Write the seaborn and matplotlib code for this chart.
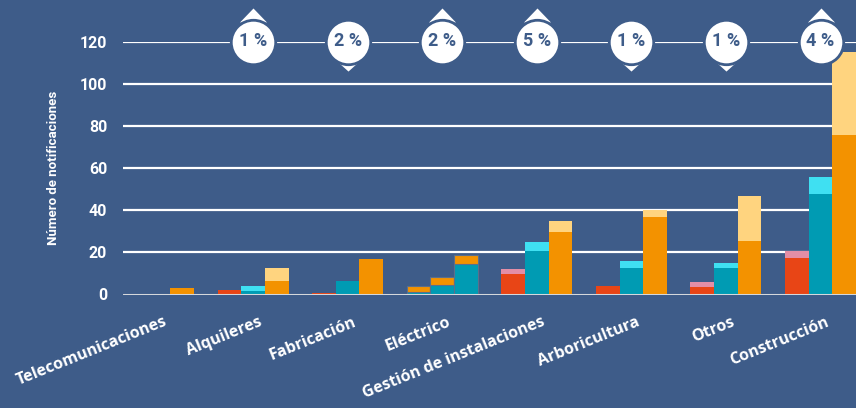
import pandas as pd
import matplotlib.pyplot as plt
import seaborn as sns
from matplotlib.transforms import offset_copy, ScaledTranslation

# Data
categories = ['Telecomunicaciones', 'Alquileres', 'Fabricación', 'Eléctrico',
              'Gestión de instalaciones', 'Arboricultura', 'Otros', 'Construcción']
series = ['A', 'B', 'C']
red_base = [0, 2, 0.5, 1, 9.7, 4, 3.5, 17.4]
red_total = [0, 2, 0.5, 4.2, 12.1, 4, 5.9, 20.6]
teal_base = [0, 1.5, 6.4, 4.3, 20.6, 12.6, 12.6, 47.6]
teal_total = [0, 4, 6.4, 8.3, 24.9, 15.9, 14.9, 55.7]
orange_base = [3.1, 6.4, 16.8, 14.5, 29.6, 36.7, 25.4, 75.6]
orange_total = [3.1, 12.5, 16.8, 18.5, 34.8, 40.2, 46.7, 114.9]
badge_labels = ['', '1 %', '2 %', '2 %', '5 %', '1 %', '1 %', '4 %']
badge_trend = [0, 1, -1, 1, 1, -1, -1, 1]
yticks = [0, 20, 40, 60, 80, 100, 120]

bg = '#3e5c89'
base_colors = ['#e84516', '#009bb3', '#f39200']
top_colors = ['#e38ea6', '#3fe0f2', '#ffd47f']

df = pd.DataFrame({
    'categoria': categories * 3,
    'serie': [s for s in series for _ in categories],
    'base': red_base + teal_base + orange_base,
    'total': red_total + teal_total + orange_total,
})

sns.set_style('white', {'axes.facecolor': bg, 'figure.facecolor': bg})
plt.rcParams['font.family'] = ['Roboto', 'DejaVu Sans']

fig = plt.figure(figsize=(8.56, 4.08), dpi=100, facecolor=bg)
ax = fig.add_axes([123 / 856, 1 - 294.5 / 408, 1 - 123 / 856, 253 / 408])
ax.set_facecolor(bg)

sns.barplot(data=df, x='categoria', y='total', hue='serie', palette=top_colors,
            width=0.75, saturation=1, errorbar=None, legend=False, ax=ax,
            linewidth=0, zorder=3)
sns.barplot(data=df, x='categoria', y='base', hue='serie', palette=base_colors,
            width=0.75, saturation=1, errorbar=None, legend=False, ax=ax,
            linewidth=0, zorder=3)

# Eléctrico is drawn teal with an orange cap in every slot
elec = categories.index('Eléctrico')
for k, cont in enumerate(ax.containers):
    bar = cont[elec]
    if k < 3:
        bar.set_facecolor(base_colors[2])
    else:
        bar.set_facecolor(base_colors[1])
    bar.set_edgecolor('#5b6f8c')
    bar.set_linewidth(0.8)

ax.set_xlim(-0.375, 7.375)
ax.set_ylim(0, 120)
for s in ax.spines.values():
    s.set_visible(False)

for y in yticks[1:]:
    ax.axhline(y, color='white', lw=1.6, zorder=1)
ax.axhline(0, color='#d5d8dc', lw=2.2, zorder=4)

ax.set_yticks(yticks)
ax.set_yticklabels([str(v) for v in yticks], color='white', fontsize=11.5,
                   fontweight='bold')
ax.tick_params(axis='y', length=0, pad=11.5)
ax.set_xticks(range(len(categories)))
ax.set_xticklabels(categories, rotation=22, ha='right', rotation_mode='anchor',
                   color='white', fontsize=11.5, fontweight='bold',
                   family=['Open Sans', 'DejaVu Sans'])
ax.tick_params(axis='x', length=0, pad=14)
for lbl in ax.get_xticklabels():
    lbl.set_transform(lbl.get_transform() + ScaledTranslation(0.05, 0, fig.dpi_scale_trans))
ax.set_xlabel('')
ax.set_ylabel('Número de notificaciones', color='white', fontsize=9.5,
              fontweight='bold', labelpad=14)

# change badges on the 120 line
up_tri = [(-1, -0.52), (1, -0.52), (0, 0.52)]
down_tri = [(-1, 0.45), (1, 0.45), (0, -0.45)]
up_tr = offset_copy(ax.transData, fig=fig, x=0, y=27, units='dots')
down_tr = offset_copy(ax.transData, fig=fig, x=0, y=-25, units='dots')
for i, (lab, tr) in enumerate(zip(badge_labels, badge_trend)):
    if not lab:
        continue
    if tr > 0:
        ax.plot(i, 120, marker=up_tri, ms=19.4, color='white', mew=0,
                transform=up_tr, clip_on=False, zorder=9)
    else:
        ax.plot(i, 120, marker=down_tri, ms=13, color='white', mew=0,
                transform=down_tr, clip_on=False, zorder=9)
    ax.plot(i, 120, marker='o', ms=32, mfc='white', mec=bg, mew=2,
            clip_on=False, zorder=10)
    ax.text(i, 120, lab, ha='center', va='center', color=bg, fontsize=13,
            fontweight='bold', zorder=11, clip_on=False)

plt.savefig('out.png', dpi=100, facecolor=bg)
